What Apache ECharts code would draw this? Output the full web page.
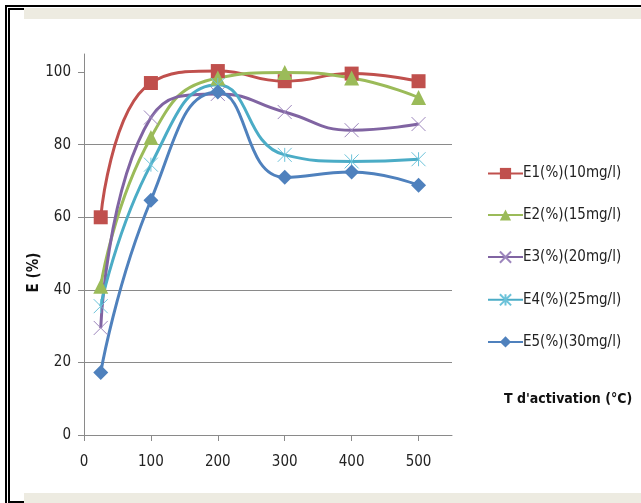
<!DOCTYPE html>
<html>
<head>
<meta charset="utf-8">
<script src="https://cdn.jsdelivr.net/npm/echarts@6/dist/echarts.min.js"></script>
<style>
    html, body { margin:0; padding:0; background:#fff; }
    #chart { width:641px; height:503px; }
</style>
</head>
<body>
<div id="chart"></div>
<script>
// T d'activation (°C)
var temps = [25, 100, 200, 300, 400, 500]
var e1 = [60, 97, 100.3, 97.5, 99.6, 97.5]
var e2 = [41, 82, 98.4, 99.9, 98.4, 93]
var e3 = [29.5, 87.5, 94, 89, 84, 85.7]
var e4 = [35.5, 74.5, 96.5, 77.2, 75.4, 76]
var e5 = [17.2, 64.7, 94.5, 71, 72.5, 68.8]
var names = ['E1(%)(10mg/l)', 'E2(%)(15mg/l)', 'E3(%)(20mg/l)', 'E4(%)(25mg/l)', 'E5(%)(30mg/l)']
var xTicks = [0, 100, 200, 300, 400, 500]
var yTicks = [0, 20, 40, 60, 80, 100]

var font = "'Liberation Sans Narrow', 'DejaVu Sans Condensed', 'Liberation Sans', sans-serif"
var crossPath = 'path://M0,0L10,10M10,0L0,10'
var starPath = 'path://M0,0L10,10M10,0L0,10M5,0L5,10'

function pts(arr) {
    return temps.map(function (t, i) { return [t, arr[i]] })
}

function mk(name, arr, color, symbol, size, stroke) {
    var s = {
        name: name,
        type: 'line',
        smooth: 0.5,
        data: pts(arr),
        symbol: symbol,
        symbolSize: size,
        showAllSymbol: true,
        lineStyle: { color: color, width: 3 },
        itemStyle: { color: color },
        z: 3
    }
    if (stroke) {
        s.itemStyle = { color: 'none', borderColor: stroke, borderWidth: 1 }
    }
    return s
}

var chart = echarts.init(document.getElementById('chart'))
var option = {
    animation: false,
    backgroundColor: '#fff',
    textStyle: { fontFamily: font },
    title: {
        text: "T d'activation (°C)",
        left: 504,
        top: 392,
        padding: 0,
        textStyle: { fontSize: 14, fontWeight: 'bold', color: '#111', fontFamily: font }
    },
    grid: { left: 84, right: 189, top: 54, bottom: 68, outerBoundsMode: 'none', containLabel: false },
    legend: {
        orient: 'vertical',
        left: 482,
        top: 161,
        itemWidth: 35,
        itemHeight: 14,
        itemGap: 26.5,
        textStyle: { fontSize: 15, color: '#222', fontFamily: font, padding: [0, 0, 0, -5] },
        data: names
    },
    xAxis: {
        type: 'value',
        min: 0,
        max: 550,
        interval: 100,
        axisLine: { onZero: false, lineStyle: { color: '#8a8a8a', width: 1 } },
        axisTick: { show: true, length: 6, lineStyle: { color: '#8a8a8a' }, customValues: xTicks },
        axisLabel: { fontSize: 15, color: '#222', margin: 20, customValues: xTicks },
        splitLine: { show: false }
    },
    yAxis: {
        type: 'value',
        min: 0,
        max: 105,
        interval: 20,
        name: 'E (%)',
        nameLocation: 'middle',
        nameRotate: 90,
        nameGap: 42,
        nameMoveOverlap: false,
        nameTextStyle: { fontSize: 15, fontWeight: 'bold', color: '#111', fontFamily: font, padding: [0, 56, 0, 0] },
        axisLine: { show: true, lineStyle: { color: '#8a8a8a', width: 1 } },
        axisTick: { show: true, length: 6, lineStyle: { color: '#8a8a8a' }, customValues: yTicks },
        axisLabel: { fontSize: 15, color: '#222', margin: 13, customValues: yTicks },
        splitLine: { show: true, showMinLine: false, showMaxLine: false, lineStyle: { color: '#8a8a8a', width: 1 } }
    },
    series: [
        mk(names[0], e1, '#C0504D', 'rect', 14),
        mk(names[1], e2, '#9BBB59', 'triangle', 15),
        mk(names[2], e3, '#8064A2', crossPath, 14, '#9d86bd'),
        mk(names[3], e4, '#4BACC6', starPath, 14, '#6cc3da'),
        mk(names[4], e5, '#4F81BD', 'diamond', 15)
    ],
    graphic: [
        // cadre double a gauche / en haut
        { type: 'rect', shape: { x: 5, y: 5, width: 636, height: 2 }, style: { fill: '#000' }, silent: true },
        { type: 'rect', shape: { x: 5, y: 5, width: 2, height: 498 }, style: { fill: '#000' }, silent: true },
        { type: 'rect', shape: { x: 8, y: 8, width: 2, height: 495 }, style: { fill: '#000' }, silent: true },
        { type: 'rect', shape: { x: 8, y: 8, width: 16, height: 2 }, style: { fill: '#000' }, silent: true },
        { type: 'rect', shape: { x: 24, y: 8, width: 617, height: 11 }, style: { fill: '#EDEBE1' }, silent: true },
        { type: 'rect', shape: { x: 24, y: 493, width: 617, height: 10 }, style: { fill: '#EDEBE1' }, silent: true },
        { type: 'rect', shape: { x: 8, y: 501, width: 16, height: 2 }, style: { fill: '#000' }, silent: true }
    ]
}
chart.setOption(option)
</script>
</body>
</html>
